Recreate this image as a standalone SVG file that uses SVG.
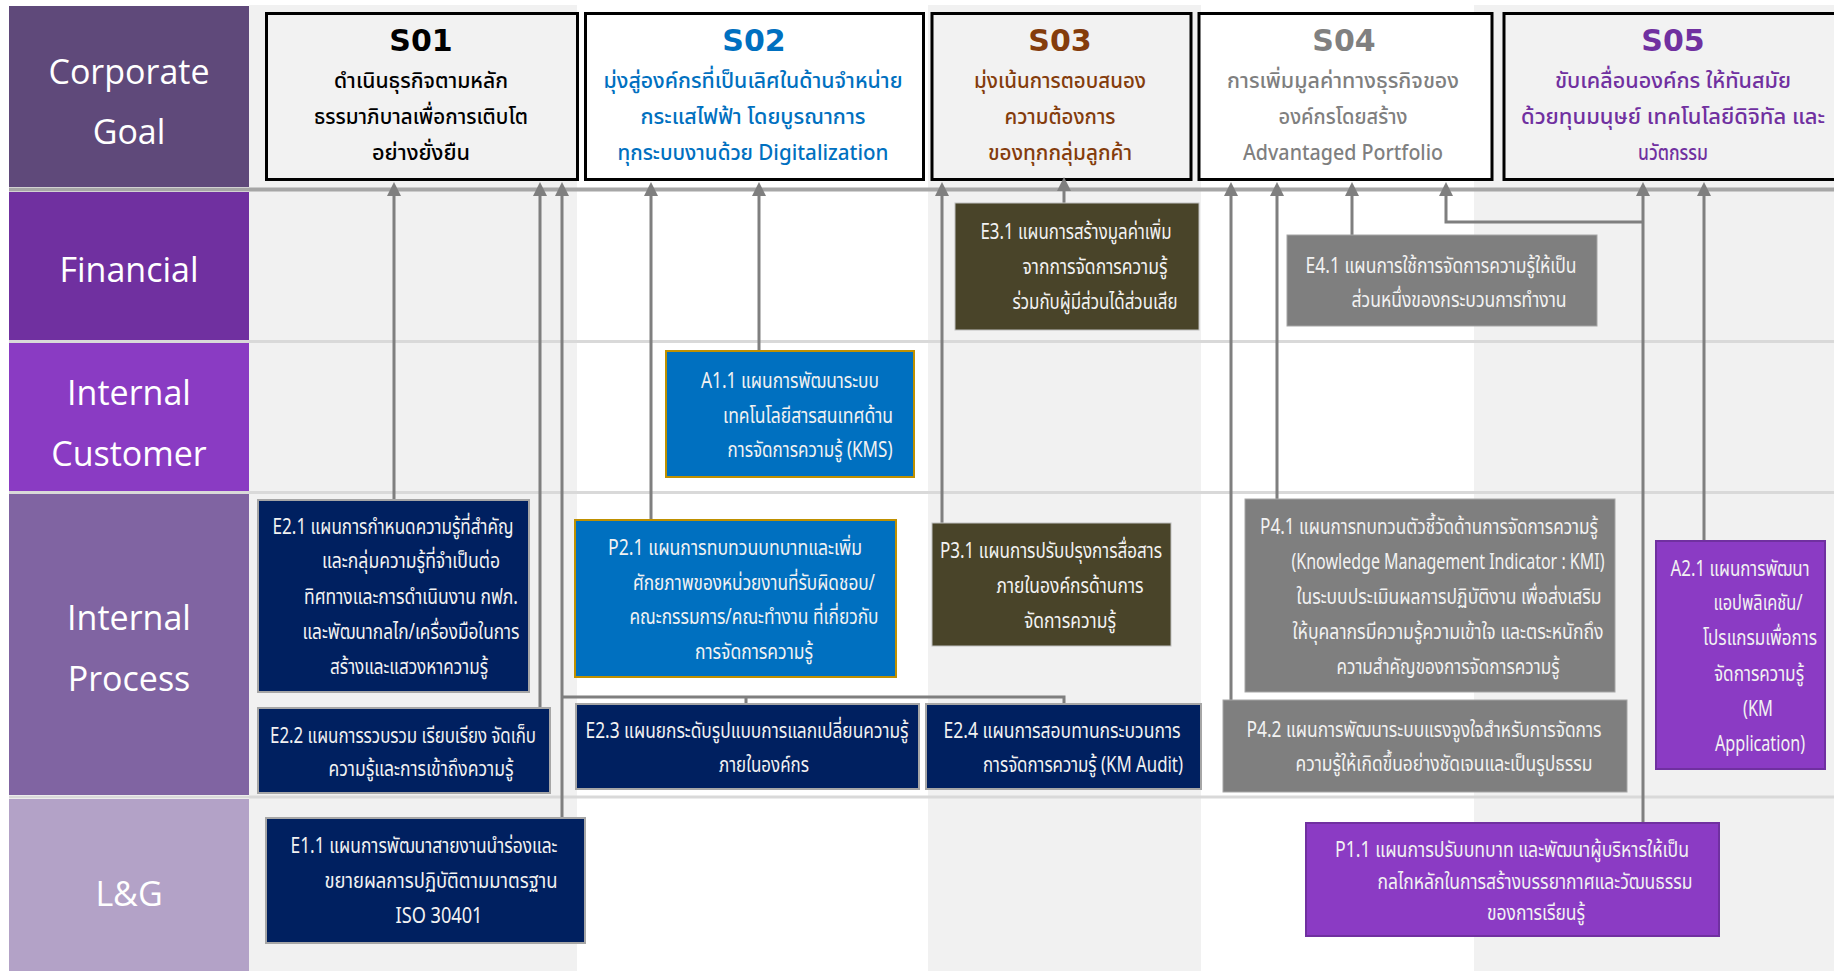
<svg xmlns="http://www.w3.org/2000/svg" width="1834" height="971" viewBox="0 0 1834 971">
<style>
  .hdr rect { stroke: none; }
  .hdr text { font-family: "Open Sans", "Noto Sans", sans-serif; font-size: 34px; fill: #ffffff; text-anchor: middle; }
  .goal rect { stroke: #000000; stroke-width: 3; }
  .goal .t { font-family: "DejaVu Sans", sans-serif; font-weight: bold; font-size: 30px; text-anchor: middle; }
  .goal .l { font-family: "Noto Sans Thai", "Noto Sans Thai UI", "Loma", "Garuda", "Tlwg Typo", "Noto Sans", "DejaVu Sans", sans-serif; font-size: 22px; font-weight: 500; text-anchor: middle; }
  /* narrow, tall initiative lettering: small size stretched vertically */
  .node text { font-family: "Noto Sans Thai", "Noto Sans Thai UI", "Loma", "Garuda", "Tlwg Typo", "Noto Sans", "DejaVu Sans", sans-serif; font-size: 17px; fill: #f2f2f2; text-anchor: middle; }
  .navy rect { fill: #002060; stroke: #a6a6a6; stroke-width: 2; }
  .blue rect { fill: #0070c0; stroke: #bf9000; stroke-width: 2; }
  .olive rect { fill: #494429; stroke: #bfbfbf; stroke-width: 1; }
  .grey rect { fill: #7f7f7f; stroke: #a6a6a6; stroke-width: 1; }
  .purple rect { fill: #8b3bc4; stroke: #7030a0; stroke-width: 2; }
  .conn path { fill: none; stroke: #7f7f7f; stroke-width: 3; }
  .arr { marker-end: url(#ah); }
</style>
<defs>
  <marker id="ah" markerUnits="userSpaceOnUse" markerWidth="14" markerHeight="14" viewBox="0 0 14 14" refX="0" refY="7" orient="auto">
    <path d="M0,0 L14,7 L0,14 z" fill="#7f7f7f"/>
  </marker>
</defs>

<!-- page and column shading -->
<rect x="0" y="0" width="1834" height="971" fill="#ffffff"/>
<g id="columns" fill="#f1f1f1">
  <rect x="249" y="5" width="328" height="966"/>
  <rect x="928" y="5" width="273" height="966"/>
  <rect x="1474" y="5" width="360" height="966"/>
</g>

<!-- row separators -->
<g id="rows" stroke="#d9d9d9" stroke-width="3">
  <line x1="9" y1="341.5" x2="1834" y2="341.5"/>
  <line x1="9" y1="492.5" x2="1834" y2="492.5"/>
  <line x1="9" y1="797" x2="1834" y2="797"/>
</g>
<line id="goal-bus" x1="9" y1="189.5" x2="1834" y2="189.5" stroke="#a6a6a6" stroke-width="4"/>

<!-- perspective headers -->
<g id="hdr-corporate" class="hdr">
  <rect x="9" y="6" width="240" height="181" fill="#5f497a"/>
  <text x="129" y="84">Corporate</text>
  <text x="129" y="144">Goal</text>
</g>
<g id="hdr-financial" class="hdr">
  <rect x="9" y="192" width="240" height="148" fill="#7030a0"/>
  <text x="129" y="282">Financial</text>
</g>
<g id="hdr-customer" class="hdr">
  <rect x="9" y="343" width="240" height="148" fill="#8a3bc3"/>
  <text x="129" y="405">Internal</text>
  <text x="129" y="466">Customer</text>
</g>
<g id="hdr-process" class="hdr">
  <rect x="9" y="494" width="240" height="301" fill="#8064a2"/>
  <text x="129" y="630">Internal</text>
  <text x="129" y="691">Process</text>
</g>
<g id="hdr-lg" class="hdr">
  <rect x="9" y="799" width="240" height="172" fill="#b3a2c7"/>
  <text x="129" y="906">L&amp;G</text>
</g>

<!-- strategic objectives -->
<g id="so1" class="goal">
  <rect x="266.5" y="13.5" width="311" height="166" fill="#f2f2f2"/>
  <text class="t" x="421" y="51" fill="#000000">S01</text>
  <text class="l" x="421" y="88" fill="#000000" textLength="174" lengthAdjust="spacingAndGlyphs">ดำเนินธุรกิจตามหลัก</text>
  <text class="l" x="421" y="124" fill="#000000" textLength="214" lengthAdjust="spacingAndGlyphs">ธรรมาภิบาลเพื่อการเติบโต</text>
  <text class="l" x="421" y="160" fill="#000000" textLength="98" lengthAdjust="spacingAndGlyphs">อย่างยั่งยืน</text>
</g>
<g id="so2" class="goal">
  <rect x="585.5" y="13.5" width="338" height="166" fill="#ffffff"/>
  <text class="t" x="754" y="51" fill="#0070c0">S02</text>
  <text class="l" x="753" y="88" fill="#0070c0" textLength="299" lengthAdjust="spacingAndGlyphs">มุ่งสู่องค์กรที่เป็นเลิศในด้านจำหน่าย</text>
  <text class="l" x="753" y="124" fill="#0070c0" textLength="225" lengthAdjust="spacingAndGlyphs">กระแสไฟฟ้า โดยบูรณาการ</text>
  <text class="l" x="753" y="160" fill="#0070c0" textLength="271" lengthAdjust="spacingAndGlyphs">ทุกระบบงานด้วย Digitalization</text>
</g>
<g id="so3" class="goal">
  <rect x="932" y="13.5" width="259" height="166" fill="#f2f2f2"/>
  <text class="t" x="1060" y="51" fill="#843c0c">S03</text>
  <text class="l" x="1060" y="88" fill="#843c0c" textLength="172" lengthAdjust="spacingAndGlyphs">มุ่งเน้นการตอบสนอง</text>
  <text class="l" x="1060" y="124" fill="#843c0c" textLength="111" lengthAdjust="spacingAndGlyphs">ความต้องการ</text>
  <text class="l" x="1060" y="160" fill="#843c0c" textLength="144" lengthAdjust="spacingAndGlyphs">ของทุกกลุ่มลูกค้า</text>
</g>
<g id="so4" class="goal">
  <rect x="1199" y="13.5" width="293" height="166" fill="#ffffff"/>
  <text class="t" x="1344" y="51" fill="#808080">S04</text>
  <text class="l" x="1343" y="88" fill="#7f7f7f" textLength="232" lengthAdjust="spacingAndGlyphs">การเพิ่มมูลค่าทางธุรกิจของ</text>
  <text class="l" x="1343" y="124" fill="#7f7f7f" textLength="129" lengthAdjust="spacingAndGlyphs">องค์กรโดยสร้าง</text>
  <text class="l" x="1343" y="160" fill="#7f7f7f" textLength="200" lengthAdjust="spacingAndGlyphs">Advantaged Portfolio</text>
</g>
<g id="so5" class="goal">
  <rect x="1504" y="13.5" width="338" height="166" fill="#f2f2f2"/>
  <text class="t" x="1673" y="51" fill="#7030a0">S05</text>
  <text class="l" x="1673" y="88" fill="#7030a0" textLength="236" lengthAdjust="spacingAndGlyphs">ขับเคลื่อนองค์กร ให้ทันสมัย</text>
  <text class="l" x="1673" y="124" fill="#7030a0" textLength="304" lengthAdjust="spacingAndGlyphs">ด้วยทุนมนุษย์ เทคโนโลยีดิจิทัล และ</text>
  <text class="l" x="1673" y="160" fill="#7030a0" textLength="70" lengthAdjust="spacingAndGlyphs">นวัตกรรม</text>
</g>

<!-- connectors -->
<g id="connectors" class="conn">
  <path class="arr" d="M394,500 V196"/>
  <path class="arr" d="M540,708 V196"/>
  <path class="arr" d="M562,818 V196"/>
  <path d="M746,704 V697 M562,697 H1064 V704"/>
  <path class="arr" d="M651,520 V196"/>
  <path class="arr" d="M759,351 V196"/>
  <path class="arr" d="M942,523 V196"/>
  <path class="arr" d="M1064,203 V191"/>
  <path class="arr" d="M1231,700 V196"/>
  <path class="arr" d="M1277,499 V196"/>
  <path class="arr" d="M1352,235 V196"/>
  <path class="arr" d="M1643,823 V196"/>
  <path class="arr" d="M1643,222 H1446 V196"/>
  <path class="arr" d="M1704,541 V196"/>
</g>

<!-- initiatives (each line: translate to centre/baseline, stretch vertically) -->
<g id="e31" class="node olive">
  <rect x="955" y="203" width="244" height="127"/>
  <text transform="translate(1076 239) scale(1 1.24)" textLength="191" lengthAdjust="spacingAndGlyphs">E3.1 แผนการสร้างมูลค่าเพิ่ม</text>
  <text transform="translate(1095 274) scale(1 1.24)" textLength="145" lengthAdjust="spacingAndGlyphs">จากการจัดการความรู้</text>
  <text transform="translate(1095 309) scale(1 1.24)" textLength="165" lengthAdjust="spacingAndGlyphs">ร่วมกับผู้มีส่วนได้ส่วนเสีย</text>
</g>
<g id="e41" class="node grey">
  <rect x="1287" y="235" width="310" height="91"/>
  <text transform="translate(1441 273) scale(1 1.24)" textLength="271" lengthAdjust="spacingAndGlyphs">E4.1 แผนการใช้การจัดการความรู้ให้เป็น</text>
  <text transform="translate(1459 307) scale(1 1.24)" textLength="215" lengthAdjust="spacingAndGlyphs">ส่วนหนึ่งของกระบวนการทำงาน</text>
</g>
<g id="a11" class="node blue">
  <rect x="666" y="351" width="248" height="126"/>
  <text transform="translate(790 388) scale(1 1.24)" textLength="178" lengthAdjust="spacingAndGlyphs">A1.1 แผนการพัฒนาระบบ</text>
  <text transform="translate(808 423) scale(1 1.24)" textLength="170" lengthAdjust="spacingAndGlyphs">เทคโนโลยีสารสนเทศด้าน</text>
  <text transform="translate(810 457) scale(1 1.24)" textLength="165" lengthAdjust="spacingAndGlyphs">การจัดการความรู้ (KMS)</text>
</g>
<g id="e21" class="node navy">
  <rect x="258" y="500" width="271" height="192"/>
  <text transform="translate(393 534) scale(1 1.24)" textLength="241" lengthAdjust="spacingAndGlyphs">E2.1 แผนการกำหนดความรู้ที่สำคัญ</text>
  <text transform="translate(411 568) scale(1 1.24)" textLength="178" lengthAdjust="spacingAndGlyphs">และกลุ่มความรู้ที่จำเป็นต่อ</text>
  <text transform="translate(411 604) scale(1 1.24)" textLength="214" lengthAdjust="spacingAndGlyphs">ทิศทางและการดำเนินงาน กฟภ.</text>
  <text transform="translate(411 639) scale(1 1.24)" textLength="217" lengthAdjust="spacingAndGlyphs">และพัฒนากลไก/เครื่องมือในการ</text>
  <text transform="translate(409 674) scale(1 1.24)" textLength="158" lengthAdjust="spacingAndGlyphs">สร้างและแสวงหาความรู้</text>
</g>
<g id="p21" class="node blue">
  <rect x="575" y="520" width="321" height="157"/>
  <text transform="translate(735 555) scale(1 1.24)" textLength="254" lengthAdjust="spacingAndGlyphs">P2.1 แผนการทบทวนบทบาทและเพิ่ม</text>
  <text transform="translate(754 590) scale(1 1.24)" textLength="242" lengthAdjust="spacingAndGlyphs">ศักยภาพของหน่วยงานที่รับผิดชอบ/</text>
  <text transform="translate(754 624) scale(1 1.24)" textLength="249" lengthAdjust="spacingAndGlyphs">คณะกรรมการ/คณะทำงาน ที่เกี่ยวกับ</text>
  <text transform="translate(754 659) scale(1 1.24)" textLength="118" lengthAdjust="spacingAndGlyphs">การจัดการความรู้</text>
</g>
<g id="p31" class="node olive">
  <rect x="932" y="523" width="239" height="123"/>
  <text transform="translate(1051 558) scale(1 1.24)" textLength="222" lengthAdjust="spacingAndGlyphs">P3.1 แผนการปรับปรุงการสื่อสาร</text>
  <text transform="translate(1070 593) scale(1 1.24)" textLength="147" lengthAdjust="spacingAndGlyphs">ภายในองค์กรด้านการ</text>
  <text transform="translate(1070 628) scale(1 1.24)" textLength="92" lengthAdjust="spacingAndGlyphs">จัดการความรู้</text>
</g>
<g id="p41" class="node grey">
  <rect x="1245" y="499" width="370" height="193"/>
  <text transform="translate(1429 534) scale(1 1.24)" textLength="338" lengthAdjust="spacingAndGlyphs">P4.1 แผนการทบทวนตัวชี้วัดด้านการจัดการความรู้</text>
  <text transform="translate(1448 569) scale(1 1.24)" textLength="313" lengthAdjust="spacingAndGlyphs">(Knowledge Management Indicator : KMI)</text>
  <text transform="translate(1449 604) scale(1 1.24)" textLength="305" lengthAdjust="spacingAndGlyphs">ในระบบประเมินผลการปฏิบัติงาน เพื่อส่งเสริม</text>
  <text transform="translate(1448 639) scale(1 1.24)" textLength="311" lengthAdjust="spacingAndGlyphs">ให้บุคลากรมีความรู้ความเข้าใจ และตระหนักถึง</text>
  <text transform="translate(1448 674) scale(1 1.24)" textLength="223" lengthAdjust="spacingAndGlyphs">ความสำคัญของการจัดการความรู้</text>
</g>
<g id="a21" class="node purple">
  <rect x="1656" y="541" width="169" height="228"/>
  <text transform="translate(1740 576) scale(1 1.24)" textLength="139" lengthAdjust="spacingAndGlyphs">A2.1 แผนการพัฒนา</text>
  <text transform="translate(1758 610) scale(1 1.24)" textLength="89" lengthAdjust="spacingAndGlyphs">แอปพลิเคชัน/</text>
  <text transform="translate(1760 645) scale(1 1.24)" textLength="114" lengthAdjust="spacingAndGlyphs">โปรแกรมเพื่อการ</text>
  <text transform="translate(1759 681) scale(1 1.24)" textLength="90" lengthAdjust="spacingAndGlyphs">จัดการความรู้</text>
  <text transform="translate(1758 716) scale(1 1.24)" textLength="30" lengthAdjust="spacingAndGlyphs">(KM</text>
  <text transform="translate(1760 751) scale(1 1.24)" textLength="90" lengthAdjust="spacingAndGlyphs">Application)</text>
</g>
<g id="e22" class="node navy">
  <rect x="258" y="708" width="292" height="85"/>
  <text transform="translate(403 743) scale(1 1.24)" textLength="266" lengthAdjust="spacingAndGlyphs">E2.2 แผนการรวบรวม เรียบเรียง จัดเก็บ</text>
  <text transform="translate(421 776) scale(1 1.24)" textLength="185" lengthAdjust="spacingAndGlyphs">ความรู้และการเข้าถึงความรู้</text>
</g>
<g id="e23" class="node navy">
  <rect x="576" y="704" width="343" height="85"/>
  <text transform="translate(747 738) scale(1 1.24)" textLength="323" lengthAdjust="spacingAndGlyphs">E2.3 แผนยกระดับรูปแบบการแลกเปลี่ยนความรู้</text>
  <text transform="translate(764 772) scale(1 1.24)" textLength="90" lengthAdjust="spacingAndGlyphs">ภายในองค์กร</text>
</g>
<g id="e24" class="node navy">
  <rect x="926" y="704" width="275" height="85"/>
  <text transform="translate(1062 738) scale(1 1.24)" textLength="237" lengthAdjust="spacingAndGlyphs">E2.4 แผนการสอบทานกระบวนการ</text>
  <text transform="translate(1083 772) scale(1 1.24)" textLength="200" lengthAdjust="spacingAndGlyphs">การจัดการความรู้ (KM Audit)</text>
</g>
<g id="p42" class="node grey">
  <rect x="1223" y="700" width="404" height="92"/>
  <text transform="translate(1424 737) scale(1 1.24)" textLength="355" lengthAdjust="spacingAndGlyphs">P4.2 แผนการพัฒนาระบบแรงจูงใจสำหรับการจัดการ</text>
  <text transform="translate(1444 771) scale(1 1.24)" textLength="297" lengthAdjust="spacingAndGlyphs">ความรู้ให้เกิดขึ้นอย่างชัดเจนและเป็นรูปธรรม</text>
</g>
<g id="e11" class="node navy">
  <rect x="266" y="818" width="319" height="125"/>
  <text transform="translate(424 853) scale(1 1.24)" textLength="267" lengthAdjust="spacingAndGlyphs">E1.1 แผนการพัฒนาสายงานนำร่องและ</text>
  <text transform="translate(441 888) scale(1 1.24)" textLength="233" lengthAdjust="spacingAndGlyphs">ขยายผลการปฏิบัติตามมาตรฐาน</text>
  <text transform="translate(439 923) scale(1 1.24)" textLength="87" lengthAdjust="spacingAndGlyphs">ISO 30401</text>
</g>
<g id="p11" class="node purple">
  <rect x="1306" y="823" width="413" height="113"/>
  <text transform="translate(1512 857) scale(1 1.24)" textLength="354" lengthAdjust="spacingAndGlyphs">P1.1 แผนการปรับบทบาท และพัฒนาผู้บริหารให้เป็น</text>
  <text transform="translate(1535 889) scale(1 1.24)" textLength="315" lengthAdjust="spacingAndGlyphs">กลไกหลักในการสร้างบรรยากาศและวัฒนธรรม</text>
  <text transform="translate(1536 920) scale(1 1.24)" textLength="98" lengthAdjust="spacingAndGlyphs">ของการเรียนรู้</text>
</g>
</svg>
